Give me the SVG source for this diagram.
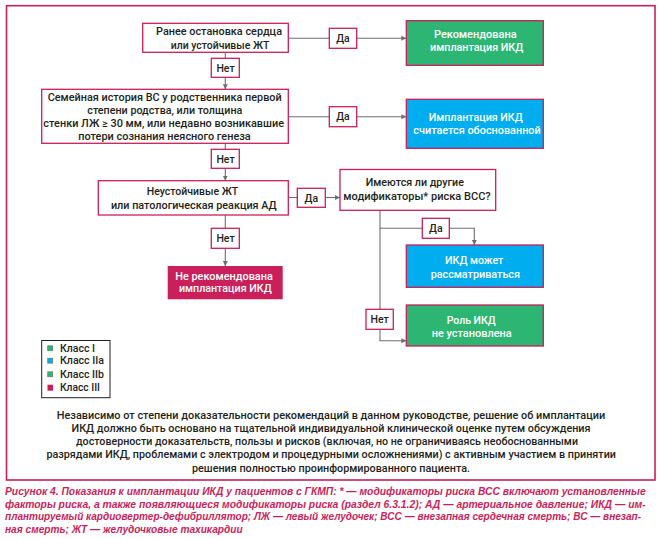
<svg xmlns="http://www.w3.org/2000/svg" width="659" height="539" viewBox="0 0 659 539">
<defs>
<style>
.frame{fill:none;stroke:#c91f5b;stroke-width:1.6}
.q{fill:#fff;stroke:#c91f5b;stroke-width:1.3}
.g{fill:#2db673;stroke:#c91f5b;stroke-width:1.3}
.b{fill:#00adef;stroke:#c91f5b;stroke-width:1.3}
.r{fill:#c91f5b}
.lbl{fill:#fff;stroke:#c91f5b;stroke-width:1.3}
.t{font-family:Roboto,"Liberation Sans",sans-serif;font-weight:500;font-size:10.5px;fill:#231f20;text-anchor:middle}
.w{fill:#fff}
.lg{font-family:Roboto,"Liberation Sans",sans-serif;font-weight:500;font-size:10.5px;fill:#231f20}
.cap{font-family:"Liberation Sans",Arial,sans-serif;font-weight:bold;font-style:italic;font-size:10.5px;fill:#c91f5b}
.c{fill:none;stroke:#6d6e70;stroke-width:1.1}
</style>
<marker id="ah" markerWidth="6" markerHeight="6" refX="5" refY="3" orient="auto" markerUnits="userSpaceOnUse">
<path d="M0,0.5 L5,3 L0,5.5 Z" fill="#6d6e70"/>
</marker>
</defs>
<rect class="frame" x="6.5" y="5.7" width="648.5" height="474.3"/>

<g id="connectors">
<line class="c" x1="225.3" y1="52.3" x2="225.3" y2="58.3"/>
<line class="c" x1="225.3" y1="77.3" x2="225.3" y2="89.3" marker-end="url(#ah)"/>
<line class="c" x1="225.3" y1="143.3" x2="225.3" y2="149.3"/>
<line class="c" x1="225.3" y1="168.3" x2="225.3" y2="180.7" marker-end="url(#ah)"/>
<line class="c" x1="225.3" y1="215" x2="225.3" y2="228.3"/>
<line class="c" x1="225.3" y1="248.3" x2="225.3" y2="266" marker-end="url(#ah)"/>
<line class="c" x1="288.3" y1="38.3" x2="329.3" y2="38.3"/>
<line class="c" x1="356.7" y1="38.3" x2="406.3" y2="38.3" marker-end="url(#ah)"/>
<line class="c" x1="288.3" y1="116.7" x2="329.3" y2="116.7"/>
<line class="c" x1="356.7" y1="116.7" x2="406.3" y2="116.7" marker-end="url(#ah)"/>
<line class="c" x1="288.3" y1="197.5" x2="297.3" y2="197.5"/>
<line class="c" x1="325.3" y1="197.5" x2="340" y2="197.5" marker-end="url(#ah)"/>
<polyline class="c" points="380,210.3 380,340.7 406.3,340.7" marker-end="url(#ah)"/>
<line class="c" x1="380" y1="228.3" x2="422.3" y2="228.3"/>
<polyline class="c" points="449.3,228.3 474.3,228.3 474.3,245" marker-end="url(#ah)"/>
</g>

<g id="n1"><rect class="q" x="142.7" y="23.3" width="145.6" height="29"/>
<text class="t" x="219" y="35.2" textLength="126" lengthAdjust="spacingAndGlyphs">Ранее остановка сердца</text>
<text class="t" x="220" y="48.5" textLength="98.6" lengthAdjust="spacingAndGlyphs">или устойчивые ЖТ</text></g>

<g id="net1"><rect class="lbl" x="211.3" y="58.3" width="28" height="19"/>
<text class="t" x="225.5" y="71.5">Нет</text></g>

<g id="n2"><rect class="q" x="41.7" y="89.3" width="246.6" height="54"/>
<text class="t" x="164.7" y="101.2" textLength="234" lengthAdjust="spacingAndGlyphs">Семейная история ВС у родственника первой</text>
<text class="t" x="164.8" y="114" textLength="155" lengthAdjust="spacingAndGlyphs">степени родства, или толщина</text>
<text class="t" x="163.7" y="126.8" textLength="240.7" lengthAdjust="spacingAndGlyphs">стенки ЛЖ ≥ 30 мм, или недавно возникавшие</text>
<text class="t" x="164.5" y="139.6" textLength="172.4" lengthAdjust="spacingAndGlyphs">потери сознания неясного генеза</text></g>

<g id="net2"><rect class="lbl" x="211.3" y="149.3" width="28" height="19"/>
<text class="t" x="225.5" y="162.5">Нет</text></g>

<g id="n3"><rect class="q" x="98.3" y="180.7" width="190" height="34.3"/>
<text class="t" x="192.5" y="194.5" textLength="91.6" lengthAdjust="spacingAndGlyphs">Неустойчивые ЖТ</text>
<text class="t" x="193.8" y="208.5" textLength="165.7" lengthAdjust="spacingAndGlyphs">или патологическая реакция АД</text></g>

<g id="net3"><rect class="lbl" x="211.3" y="228.3" width="28" height="20"/>
<text class="t" x="225.5" y="242">Нет</text></g>

<g id="n_red"><rect class="r" x="167.7" y="266" width="115" height="33.3"/>
<text class="t w" x="224" y="279.8" textLength="97.7" lengthAdjust="spacingAndGlyphs">Не рекомендована</text>
<text class="t w" x="225.3" y="292.1" textLength="92.7" lengthAdjust="spacingAndGlyphs">имплантация ИКД</text></g>

<g id="da1"><rect class="lbl" x="329.3" y="28.3" width="27.4" height="20"/>
<text class="t" x="343" y="42">Да</text></g>

<g id="n_g1"><rect class="g" x="406.3" y="20.7" width="137" height="44.6"/>
<text class="t w" x="475.3" y="37.8" textLength="82.7" lengthAdjust="spacingAndGlyphs">Рекомендована</text>
<text class="t w" x="476.7" y="51.2" textLength="93.3" lengthAdjust="spacingAndGlyphs">имплантация ИКД</text></g>

<g id="da2"><rect class="lbl" x="329.3" y="106.7" width="27.4" height="20"/>
<text class="t" x="343" y="120.4">Да</text></g>

<g id="n_b1"><rect class="b" x="406.3" y="99.3" width="137" height="49"/>
<text class="t w" x="475.7" y="120.8" textLength="94" lengthAdjust="spacingAndGlyphs">Имплантация ИКД</text>
<text class="t w" x="477" y="134.2" textLength="127.4" lengthAdjust="spacingAndGlyphs">считается обоснованной</text></g>

<g id="da3"><rect class="lbl" x="297.3" y="188.3" width="28" height="19"/>
<text class="t" x="311.3" y="201.5">Да</text></g>

<g id="n4"><rect class="q" x="340" y="169.5" width="155.7" height="40.8"/>
<text class="t" x="414.8" y="186.2" textLength="98.3" lengthAdjust="spacingAndGlyphs">Имеются ли другие</text>
<text class="t" x="417" y="200.2" textLength="147.4" lengthAdjust="spacingAndGlyphs">модификаторы* риска ВСС?</text></g>

<g id="da4"><rect class="lbl" x="422.3" y="218.3" width="27" height="20"/>
<text class="t" x="435.8" y="232">Да</text></g>

<g id="n_b2"><rect class="b" x="406.3" y="245" width="137" height="42.3"/>
<text class="t w" x="474.2" y="264.2" textLength="58.3" lengthAdjust="spacingAndGlyphs">ИКД может</text>
<text class="t w" x="475.3" y="277.5" textLength="89.3" lengthAdjust="spacingAndGlyphs">рассматриваться</text></g>

<g id="net4"><rect class="lbl" x="366" y="309.3" width="27.3" height="20"/>
<text class="t" x="379.7" y="323">Нет</text></g>

<g id="n_g2"><rect class="g" x="406.3" y="305" width="137" height="41"/>
<text class="t w" x="471.2" y="323.5" textLength="49" lengthAdjust="spacingAndGlyphs">Роль ИКД</text>
<text class="t w" x="471.7" y="336.8" textLength="80" lengthAdjust="spacingAndGlyphs">не установлена</text></g>

<g id="legend">
<rect x="41.7" y="340.5" width="68.3" height="57.2" fill="#fff" stroke="#231f20" stroke-width="1"/>
<rect x="47.7" y="345.8" width="5" height="5" fill="#2db673" stroke="#4d7a5e" stroke-width="0.6"/>
<rect x="47.7" y="358.2" width="5" height="5" fill="#00adef" stroke="#6d6e70" stroke-width="0.6"/>
<rect x="47.7" y="371.8" width="5" height="5" fill="#2db673" stroke="#6d6e70" stroke-width="0.6"/>
<rect x="47.5" y="384.7" width="5.5" height="6" fill="#c91f5b"/>
<text class="lg" x="60" y="352" textLength="35" lengthAdjust="spacingAndGlyphs">Класс I</text>
<text class="lg" x="60" y="364.4" textLength="44" lengthAdjust="spacingAndGlyphs">Класс IIa</text>
<text class="lg" x="60" y="378" textLength="44" lengthAdjust="spacingAndGlyphs">Класс IIb</text>
<text class="lg" x="60" y="391.4" textLength="40" lengthAdjust="spacingAndGlyphs">Класс III</text>
</g>

<g id="note">
<text class="t" x="331" y="418.5" textLength="548.5" lengthAdjust="spacingAndGlyphs">Независимо от степени доказательности рекомендаций в данном руководстве, решение об имплантации</text>
<text class="t" x="331" y="431.8" textLength="519" lengthAdjust="spacingAndGlyphs">ИКД должно быть основано на тщательной индивидуальной клинической оценке путем обсуждения</text>
<text class="t" x="327" y="445.2" textLength="502" lengthAdjust="spacingAndGlyphs">достоверности доказательств, пользы и рисков (включая, но не ограничиваясь необоснованными</text>
<text class="t" x="331.2" y="457.8" textLength="569.6" lengthAdjust="spacingAndGlyphs">разрядами ИКД, проблемами с электродом и процедурными осложнениями) с активным участием в принятии</text>
<text class="t" x="331" y="471.8" textLength="278" lengthAdjust="spacingAndGlyphs">решения полностью проинформированного пациента.</text>
</g>

<g id="caption">
<text class="cap" x="5" y="494.5" textLength="640.6" lengthAdjust="spacingAndGlyphs">Рисунок 4. Показания к имплантации ИКД у пациентов с ГКМП: * — модификаторы риска ВСС включают установленные</text>
<text class="cap" x="5" y="507.8" textLength="640.6" lengthAdjust="spacingAndGlyphs">факторы риска, а также появляющиеся модификаторы риска (раздел 6.3.1.2); АД — артериальное давление; ИКД — им-</text>
<text class="cap" x="5" y="520.2" textLength="636" lengthAdjust="spacingAndGlyphs">плантируемый кардиовертер-дефибриллятор; ЛЖ — левый желудочек; ВСС — внезапная сердечная смерть; ВС — внезап-</text>
<text class="cap" x="5" y="532.5" textLength="237.6" lengthAdjust="spacingAndGlyphs">ная смерть; ЖТ — желудочковые тахикардии</text>
</g>
</svg>
